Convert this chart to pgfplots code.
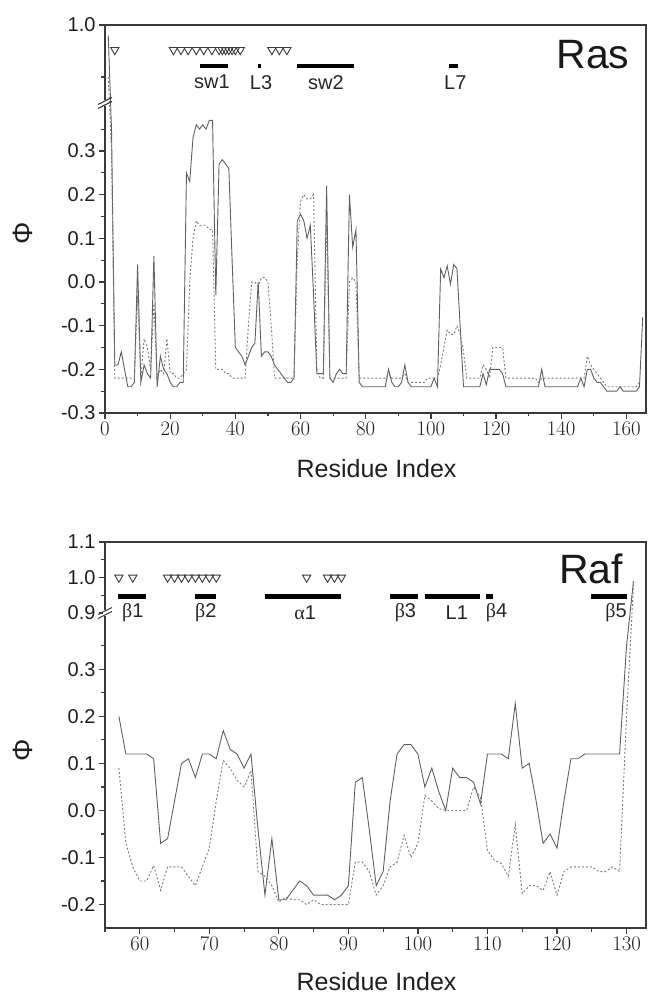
\documentclass[border=0pt]{standalone}
\usepackage{pgfplots}
\pgfplotsset{compat=1.18}
\usepackage{fontspec}
\setmainfont{Liberation Sans}
\newfontfamily\grk{Liberation Serif}
\definecolor{framec}{HTML}{3A3A3A}
\definecolor{solidc}{HTML}{606060}
\definecolor{dotc}{HTML}{7A7A7A}
\tikzset{lab/.style={font=\fontsize{20}{24}\selectfont, text=black!85}}
\pgfplotsset{
  myaxis/.style={
    scale only axis, width=541pt, clip=false,
    axis line style={framec, line width=1.5pt},
    tick pos=left, tick align=outside,
    major tick length=6pt, minor tick length=3.5pt,
    every major tick/.append style={framec, line width=1.3pt},
    every minor tick/.append style={framec, line width=1.1pt},
    tick label style={font=\fontsize{20}{24}\selectfont, text=black!88},
    xlabel={Residue Index},
    xlabel style={font=\fontsize{25}{30}\selectfont, text=black!88, at={(axis description cs:0.502,-0.1675)}, anchor=base},
    ylabel={Φ},
    ylabel style={at={(axis description cs:-0.152,0.464)}, anchor=center},
  },
  sol/.style={solidc, line width=0.9pt},
  dot/.style={dotc, line width=0.9pt, dash pattern=on 2pt off 2pt},
  tri/.style={only marks, mark=triangle, mark size=4.8pt, mark options={rotate=180, fill=white, draw=framec, line width=0.9pt, solid}},
  bar/.style={black, line width=4pt},
}
\begin{document}
\begin{tikzpicture}
\useasboundingbox (0pt,0pt) rectangle (648pt,997pt);
% ---------------- Ras ----------------
\begin{axis}[myaxis, at={(105pt,584pt)}, anchor=south west, height=388pt,
  xmin=0, xmax=166, ymin=-0.3, ymax=1.0,
  y coord trafo/.code={\pgfmathparse{min(#1,0.41)+1.19*max(#1-0.85,0)}},
  xtick={0,20,...,160}, minor xtick={10,30,...,150},
  ytick={-0.3,-0.2,-0.1,0,0.1,0.2,0.3,1.0},
  yticklabels={-0.3,-0.2,-0.1,0.0,0.1,0.2,0.3,1.0},
  minor ytick={-0.25,-0.15,-0.05,0.05,0.15,0.25,0.35,0.9},
  ylabel style={font=\fontsize{28}{30}\selectfont, text=black!88},
]
\addplot[sol] coordinates {
(1,0.98)(2,0.35)(3,-0.19)(4,-0.19)(5,-0.16)(6,-0.2)(7,-0.24)(8,-0.24)(9,-0.23)(10,0.04)
(11,-0.23)(12,-0.19)(13,-0.21)(14,-0.22)(15,0.06)(16,-0.24)(17,-0.17)(18,-0.2)(19,-0.21)(20,-0.23)
(21,-0.24)(22,-0.24)(23,-0.23)(24,-0.23)(25,0.25)(26,0.23)(27,0.33)(28,0.36)(29,0.35)(30,0.36)
(31,0.35)(32,0.37)(33,0.37)(34,-0.03)(35,0.27)(36,0.28)(37,0.27)(38,0.26)(39,0.05)(40,-0.15)
(41,-0.16)(42,-0.17)(43,-0.19)(44,-0.17)(45,-0.15)(46,-0.14)(47,0.0)(48,-0.17)(49,-0.16)(50,-0.16)
(51,-0.17)(52,-0.19)(53,-0.2)(54,-0.21)(55,-0.22)(56,-0.23)(57,-0.23)(58,-0.22)(59,0.14)(60,0.155)
(61,0.14)(62,0.1)(63,0.13)(64,-0.03)(65,-0.21)(66,-0.21)(67,-0.21)(68,0.22)(69,-0.22)(70,-0.23)
(71,-0.21)(72,-0.2)(73,-0.21)(74,-0.21)(75,0.2)(76,0.08)(77,0.12)(78,-0.23)(79,-0.24)(80,-0.24)
(81,-0.24)(82,-0.24)(83,-0.24)(84,-0.24)(85,-0.24)(86,-0.24)(87,-0.2)(88,-0.23)(89,-0.24)(90,-0.24)
(91,-0.23)(92,-0.19)(93,-0.23)(94,-0.24)(95,-0.24)(96,-0.24)(97,-0.24)(98,-0.24)(99,-0.24)(100,-0.24)
(101,-0.22)(102,-0.24)(103,0.03)(104,0.01)(105,0.037)(106,-0.005)(107,0.04)(108,0.03)(109,-0.105)(110,-0.24)
(111,-0.24)(112,-0.24)(113,-0.24)(114,-0.24)(115,-0.24)(116,-0.21)(117,-0.235)(118,-0.2)(119,-0.2)(120,-0.2)
(121,-0.2)(122,-0.21)(123,-0.24)(124,-0.24)(125,-0.24)(126,-0.24)(127,-0.24)(128,-0.24)(129,-0.24)(130,-0.24)
(131,-0.24)(132,-0.24)(133,-0.24)(134,-0.2)(135,-0.24)(136,-0.24)(137,-0.24)(138,-0.24)(139,-0.24)(140,-0.24)
(141,-0.24)(142,-0.24)(143,-0.24)(144,-0.24)(145,-0.24)(146,-0.22)(147,-0.24)(148,-0.2)(149,-0.2)(150,-0.22)
(151,-0.23)(152,-0.23)(153,-0.24)(154,-0.25)(155,-0.25)(156,-0.25)(157,-0.25)(158,-0.24)(159,-0.25)(160,-0.25)
(161,-0.25)(162,-0.25)(163,-0.25)(164,-0.24)(165,-0.08)
};
\addplot[dot] coordinates {
(1,0.9)(2,0.3)(3,-0.22)(4,-0.22)(5,-0.22)(6,-0.22)(7,-0.22)(8,-0.22)(9,-0.22)(10,-0.03)
(11,-0.22)(12,-0.13)(13,-0.15)(14,-0.2)(15,-0.05)(16,-0.22)(17,-0.2)(18,-0.21)(19,-0.13)(20,-0.21)
(21,-0.21)(22,-0.22)(23,-0.22)(24,-0.21)(25,-0.2)(26,0.0)(27,0.1)(28,0.14)(29,0.13)(30,0.13)
(31,0.13)(32,0.12)(33,0.12)(34,-0.2)(35,-0.2)(36,-0.2)(37,-0.21)(38,-0.21)(39,-0.22)(40,-0.22)
(41,-0.22)(42,-0.22)(43,-0.22)(44,-0.1)(45,0.0)(46,0.0)(47,-0.01)(48,0.01)(49,0.01)(50,0.0)
(51,-0.1)(52,-0.22)(53,-0.22)(54,-0.22)(55,-0.22)(56,-0.22)(57,-0.22)(58,-0.22)(59,0.05)(60,0.185)
(61,0.2)(62,0.19)(63,0.19)(64,0.2)(65,-0.2)(66,-0.22)(67,-0.22)(68,0.15)(69,-0.22)(70,-0.22)
(71,-0.22)(72,-0.22)(73,-0.22)(74,-0.22)(75,0.0)(76,0.01)(77,0.0)(78,-0.22)(79,-0.22)(80,-0.22)
(81,-0.22)(82,-0.22)(83,-0.22)(84,-0.22)(85,-0.22)(86,-0.22)(87,-0.21)(88,-0.22)(89,-0.22)(90,-0.22)
(91,-0.22)(92,-0.21)(93,-0.23)(94,-0.23)(95,-0.23)(96,-0.23)(97,-0.23)(98,-0.23)(99,-0.22)(100,-0.22)
(101,-0.22)(102,-0.22)(103,-0.19)(104,-0.15)(105,-0.11)(106,-0.12)(107,-0.12)(108,-0.1)(109,-0.12)(110,-0.16)
(111,-0.22)(112,-0.22)(113,-0.22)(114,-0.22)(115,-0.22)(116,-0.19)(117,-0.2)(118,-0.22)(119,-0.15)(120,-0.15)
(121,-0.15)(122,-0.15)(123,-0.22)(124,-0.22)(125,-0.22)(126,-0.22)(127,-0.22)(128,-0.22)(129,-0.22)(130,-0.22)
(131,-0.22)(132,-0.22)(133,-0.23)(134,-0.22)(135,-0.22)(136,-0.22)(137,-0.22)(138,-0.22)(139,-0.22)(140,-0.22)
(141,-0.22)(142,-0.22)(143,-0.22)(144,-0.22)(145,-0.22)(146,-0.22)(147,-0.22)(148,-0.17)(149,-0.19)(150,-0.2)
(151,-0.21)(152,-0.22)(153,-0.23)(154,-0.24)(155,-0.24)(156,-0.24)(157,-0.24)(158,-0.24)(159,-0.24)(160,-0.24)
(161,-0.24)(162,-0.24)(163,-0.24)(164,-0.23)
};
\addplot[tri] coordinates {(3,0.952)(21,0.952)(23.3,0.952)(25.5,0.952)(28,0.952)(30.3,0.952)(32.8,0.952)(35,0.952)(36,0.952)(37,0.952)(38,0.952)(39,0.952)(40,0.952)(41.5,0.952)(51.2,0.952)(53.5,0.952)(55.8,0.952)};
\addplot[bar] coordinates {(29,0.921)(37.6,0.921)};
\addplot[bar] coordinates {(46.9,0.921)(47.8,0.921)};
\addplot[bar] coordinates {(58.9,0.921)(76.3,0.921)};
\addplot[bar] coordinates {(105.4,0.921)(108.4,0.921)};
\node[lab] at (axis cs:32.8,0.89) {sw1};
\node[lab] at (axis cs:47.9,0.89) {L3};
\node[lab] at (axis cs:67.8,0.89) {sw2};
\node[lab] at (axis cs:107.5,0.89) {L7};
\node[anchor=base east, font=\fontsize{41}{44}\selectfont, text=black!90] at (axis description cs:0.976,0.889) {Ras};
\fill[white] (axis cs:0,0.41) ++(-1.5pt,-3pt) rectangle ++(3pt,6pt);
\draw[framec, line width=1.1pt] (axis cs:0,0.41) ++(-7pt,-5.5pt) -- ++(14pt,7pt);
\draw[framec, line width=1.1pt] (axis cs:0,0.41) ++(-7pt,-1.5pt) -- ++(14pt,7pt);
\end{axis}
% ---------------- Raf ----------------
\begin{axis}[myaxis, at={(105pt,69pt)}, anchor=south west, height=386pt,
  xmin=55, xmax=132.8, ymin=-0.25, ymax=1.1,
  y coord trafo/.code={\pgfmathparse{min(#1,0.42)+0.755*max(#1-0.9,0)}},
  xtick={60,70,...,130}, minor xtick={55,65,...,125},
  ytick={-0.2,-0.1,0,0.1,0.2,0.3,0.9,1.0,1.1},
  yticklabels={-0.2,-0.1,0.0,0.1,0.2,0.3,0.9,1.0,1.1},
  minor ytick={-0.15,-0.05,0.05,0.15,0.25,0.35,0.95,1.05},
  ylabel style={font=\fontsize{28}{30}\selectfont, text=black!88, at={(axis description cs:-0.152,0.461)}},
  xlabel style={at={(axis description cs:0.502,-0.163)}},
]
\addplot[sol] coordinates {
(57,0.2)(58,0.12)(59,0.12)(60,0.12)(61,0.12)(62,0.11)(63,-0.07)(64,-0.06)(65,0.02)(66,0.1)
(67,0.11)(68,0.07)(69,0.12)(70,0.12)(71,0.11)(72,0.17)(73,0.13)(74,0.12)(75,0.09)(76,0.12)
(77,-0.04)(78,-0.18)(79,-0.06)(80,-0.19)(81,-0.19)(82,-0.17)(83,-0.15)(84,-0.16)(85,-0.18)(86,-0.18)
(87,-0.18)(88,-0.19)(89,-0.18)(90,-0.16)(91,0.06)(92,0.07)(93,-0.04)(94,-0.16)(95,-0.13)(96,0.02)
(97,0.12)(98,0.14)(99,0.14)(100,0.12)(101,0.05)(102,0.09)(103,0.04)(104,0.0)(105,0.09)(106,0.07)
(107,0.07)(108,0.06)(109,0.014)(110,0.12)(111,0.12)(112,0.12)(113,0.11)(114,0.227)(115,0.09)(116,0.1)
(117,0.02)(118,-0.07)(119,-0.05)(120,-0.08)(121,0.02)(122,0.11)(123,0.11)(124,0.12)(125,0.12)(126,0.12)
(127,0.12)(128,0.12)(129,0.12)(130,0.35)(131,0.99)
};
\addplot[dot] coordinates {
(57,0.09)(58,-0.07)(59,-0.12)(60,-0.15)(61,-0.15)(62,-0.117)(63,-0.17)(64,-0.12)(65,-0.12)(66,-0.12)
(67,-0.14)(68,-0.16)(69,-0.12)(70,-0.08)(71,0.02)(72,0.106)(73,0.09)(74,0.064)(75,0.05)(76,0.085)
(77,-0.13)(78,-0.14)(79,-0.16)(80,-0.195)(81,-0.185)(82,-0.19)(83,-0.19)(84,-0.2)(85,-0.19)(86,-0.2)
(87,-0.2)(88,-0.2)(89,-0.2)(90,-0.2)(91,-0.11)(92,-0.11)(93,-0.13)(94,-0.18)(95,-0.16)(96,-0.12)
(97,-0.11)(98,-0.053)(99,-0.1)(100,-0.07)(101,0.032)(102,0.02)(103,0.004)(104,0.0)(105,0.0)(106,0.0)
(107,0.0)(108,0.05)(109,0.028)(110,-0.085)(111,-0.106)(112,-0.113)(113,-0.14)(114,-0.03)(115,-0.177)(116,-0.16)
(117,-0.16)(118,-0.17)(119,-0.13)(120,-0.18)(121,-0.13)(122,-0.12)(123,-0.12)(124,-0.12)(125,-0.12)(126,-0.13)
(127,-0.13)(128,-0.12)(129,-0.13)(130,0.2)(131,0.98)
};
\addplot[tri] coordinates {(57,1.0)(59,1.0)(64,1.0)(65,1.0)(66,1.0)(67,1.0)(68,1.0)(69,1.0)(70,1.0)(71,1.0)(84,1.0)(87,1.0)(88,1.0)(89,1.0)};
\addplot[bar, line width=5pt] coordinates {(56.9,0.946)(60.9,0.946)};
\addplot[bar, line width=5pt] coordinates {(68.0,0.946)(71.0,0.946)};
\addplot[bar, line width=5pt] coordinates {(78.0,0.946)(89.0,0.946)};
\addplot[bar, line width=5pt] coordinates {(96.0,0.946)(100.0,0.946)};
\addplot[bar, line width=5pt] coordinates {(101.0,0.946)(108.9,0.946)};
\addplot[bar, line width=5pt] coordinates {(109.8,0.946)(110.8,0.946)};
\addplot[bar, line width=5pt] coordinates {(124.9,0.946)(130.0,0.946)};
\node[lab] at (axis cs:59.0,0.9) {{\grk β}1};
\node[lab] at (axis cs:69.5,0.9) {{\grk β}2};
\node[lab] at (axis cs:83.8,0.9) {{\grk α}1};
\node[lab] at (axis cs:98.2,0.9) {{\grk β}3};
\node[lab] at (axis cs:105.6,0.9) {L1};
\node[lab] at (axis cs:111.3,0.9) {{\grk β}4};
\node[lab] at (axis cs:128.5,0.9) {{\grk β}5};
\node[anchor=base east, font=\fontsize{41}{44}\selectfont, text=black!90] at (axis description cs:0.964,0.893) {Raf};
\fill[white] (axis cs:55,0.42) ++(-1.5pt,-3pt) rectangle ++(3pt,6pt);
\draw[framec, line width=1.1pt] (axis cs:55,0.42) ++(-7pt,-5.5pt) -- ++(14pt,7pt);
\draw[framec, line width=1.1pt] (axis cs:55,0.42) ++(-7pt,-1.5pt) -- ++(14pt,7pt);
\end{axis}
\end{tikzpicture}
\end{document}
